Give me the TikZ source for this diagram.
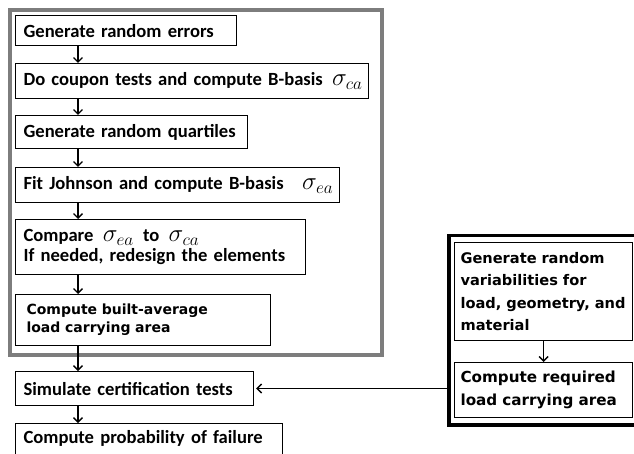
\documentclass[tikz,border=0pt]{standalone}
\usepackage{fontspec}
\setmainfont{Carlito}
\newfontfamily\vfont{DejaVu Sans}
\usetikzlibrary{arrows.meta}
\newcommand\sig[1]{{\fontsize{23}{20}\selectfont$\sigma_{#1}$}}
\definecolor{framegray}{RGB}{125,125,125}
\begin{document}
\begin{tikzpicture}[x=1pt,y=-1pt,
  box/.style={draw, line width=1.1pt, anchor=north west, inner xsep=8pt, inner ysep=0pt,
    align=left, font=\bfseries\fontsize{18.6}{20}\selectfont},
  vbox/.style={box, font=\vfont\bfseries\fontsize{14}{18}\selectfont},
  frame/.style={draw, anchor=north west, inner sep=0pt},
  arr/.style={-{Straight Barb[length=4.5pt,width=9pt]}, line width=1.4pt}]
\useasboundingbox (0,0) rectangle (634,454);
% frames
\node[frame, draw=framegray, line width=4pt, minimum width=372pt, minimum height=345pt] (gbox) at (8,8) {};
\node[frame, line width=3.5pt, minimum width=200pt, minimum height=189pt] (rbox) at (447,234) {};
% left column
\node[box, minimum width=221pt, minimum height=30pt, text width=205pt] (b1) at (15,15) {\mbox{Generate random errors}};
\node[box, minimum width=353pt, minimum height=35pt, text width=337pt] (b2) at (15,63) {\mbox{Do coupon tests and compute B-basis\enspace\sig{ca}}};
\node[box, minimum width=232pt, minimum height=33pt, text width=216pt] (b3) at (15,115) {\mbox{Generate random quartiles}};
\node[box, minimum width=324pt, minimum height=35pt, text width=308pt] (b4) at (15,167) {\mbox{Fit Johnson and compute B-basis\quad\sig{ea}}};
\node[box, minimum width=290pt, minimum height=55pt, text width=274pt] (b5) at (15,219) {\mbox{Compare\enspace\sig{ea}\enspace to\enspace\sig{ca}}\\\mbox{If needed, redesign the elements}};
\node[vbox, inner xsep=11pt, minimum width=255pt, minimum height=51pt, text width=233pt] (b6) at (15,294) {\mbox{Compute built-average}\\\mbox{load carrying area}};
\node[box, minimum width=238pt, minimum height=34pt, text width=222pt] (b7) at (15,371) {\mbox{Simulate certification tests}};
\node[box, minimum width=267pt, text height=20pt, text depth=26pt, text width=251pt] (b8) at (15,423) {\mbox{Compute probability of failure}};
% right column
\node[vbox, font=\vfont\bfseries\fontsize{14.6}{22.6}\selectfont, minimum width=178pt, minimum height=98pt, text width=166pt, inner xsep=6pt] (r1) at (454,242) {\mbox{Generate random}\\\mbox{variabilities for}\\\mbox{load, geometry, and}\\\mbox{material}};
\node[vbox, font=\vfont\bfseries\fontsize{15.2}{23}\selectfont, minimum width=178pt, minimum height=55pt, text width=166pt, inner xsep=6pt] (r2) at (454,362) {\mbox{Compute required}\\\mbox{load carrying area}};
% connectors
\foreach \a/\b in {b1/b2,b2/b3,b3/b4,b4/b5,b5/b6,b6/b7,b7/b8}
  \draw[arr] ([xshift=63pt]\a.south west) -- ([xshift=63pt]\b.north west);
\draw[arr] (r1.south) -- (r2.north);
\draw[arr] (rbox.west |- b7.east) -- ([xshift=2pt]b7.east);
\end{tikzpicture}
\end{document}
